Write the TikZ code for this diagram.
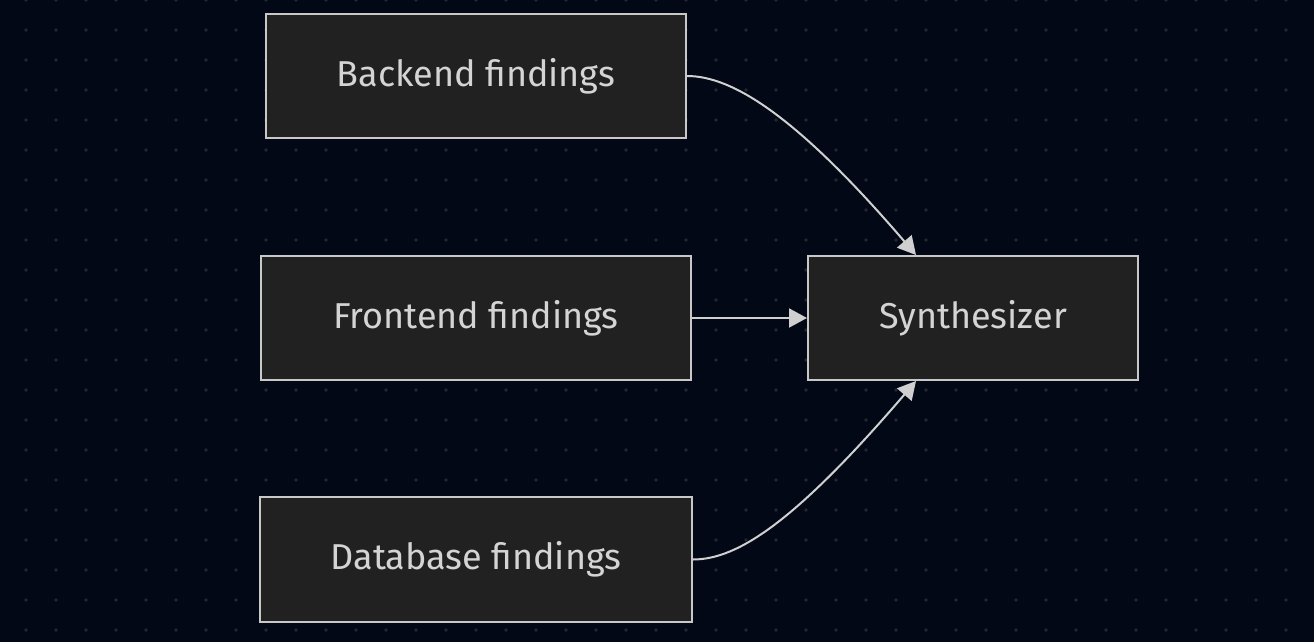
\documentclass[tikz,border=0pt]{standalone}
\usepackage{fontspec}
\setmainfont{Fira Sans}
\usetikzlibrary{arrows.meta}
\definecolor{bgc}{HTML}{030816}
\definecolor{dotc}{HTML}{23272F}
\definecolor{boxfill}{HTML}{202120}
\definecolor{boxline}{HTML}{C8C8C8}
\definecolor{txt}{HTML}{D4D4D4}
\definecolor{edge}{HTML}{D0D0D0}
\tikzset{
  box/.style={draw=boxline, line width=2pt, fill=boxfill, text=txt, inner sep=0pt,
    font=\fontsize{36}{42}\selectfont, anchor=north west},
  conn/.style={draw=edge, line width=2pt, -{Triangle[length=18pt,width=19pt]}}
}
\begin{document}
\begin{tikzpicture}[x=1pt,y=-1pt]
\fill[bgc] (0,0) rectangle (1314,642);
\useasboundingbox (0,0) rectangle (1314,642);
\foreach \i in {0,...,43} {
  \foreach \j in {0,...,21} {
    \fill[dotc] ({26+30*\i},{30*\j}) circle (1.8pt);
  }
}
\node[box, minimum width=420pt, minimum height=124pt] (be) at (265,13) {Backend findings};
\node[box, minimum width=430pt, minimum height=124pt] (fe) at (260,255) {Frontend findings};
\node[box, minimum width=432pt, minimum height=125pt] (db) at (259,496) {Database findings};
\node[box, minimum width=330pt, minimum height=124pt] (sy) at (807,255) {Synthesizer};
\coordinate (syt) at ([xshift=-57pt]sy.north);
\coordinate (syb) at ([xshift=-57pt]sy.south);
\draw[conn] (be.east) .. controls +(45,0) and +(-120,-140) .. (syt);
\draw[conn] (fe.east) -- (sy.west);
\draw[conn] (db.east) .. controls +(45,0) and +(-120,140) .. (syb);
\end{tikzpicture}
\end{document}
